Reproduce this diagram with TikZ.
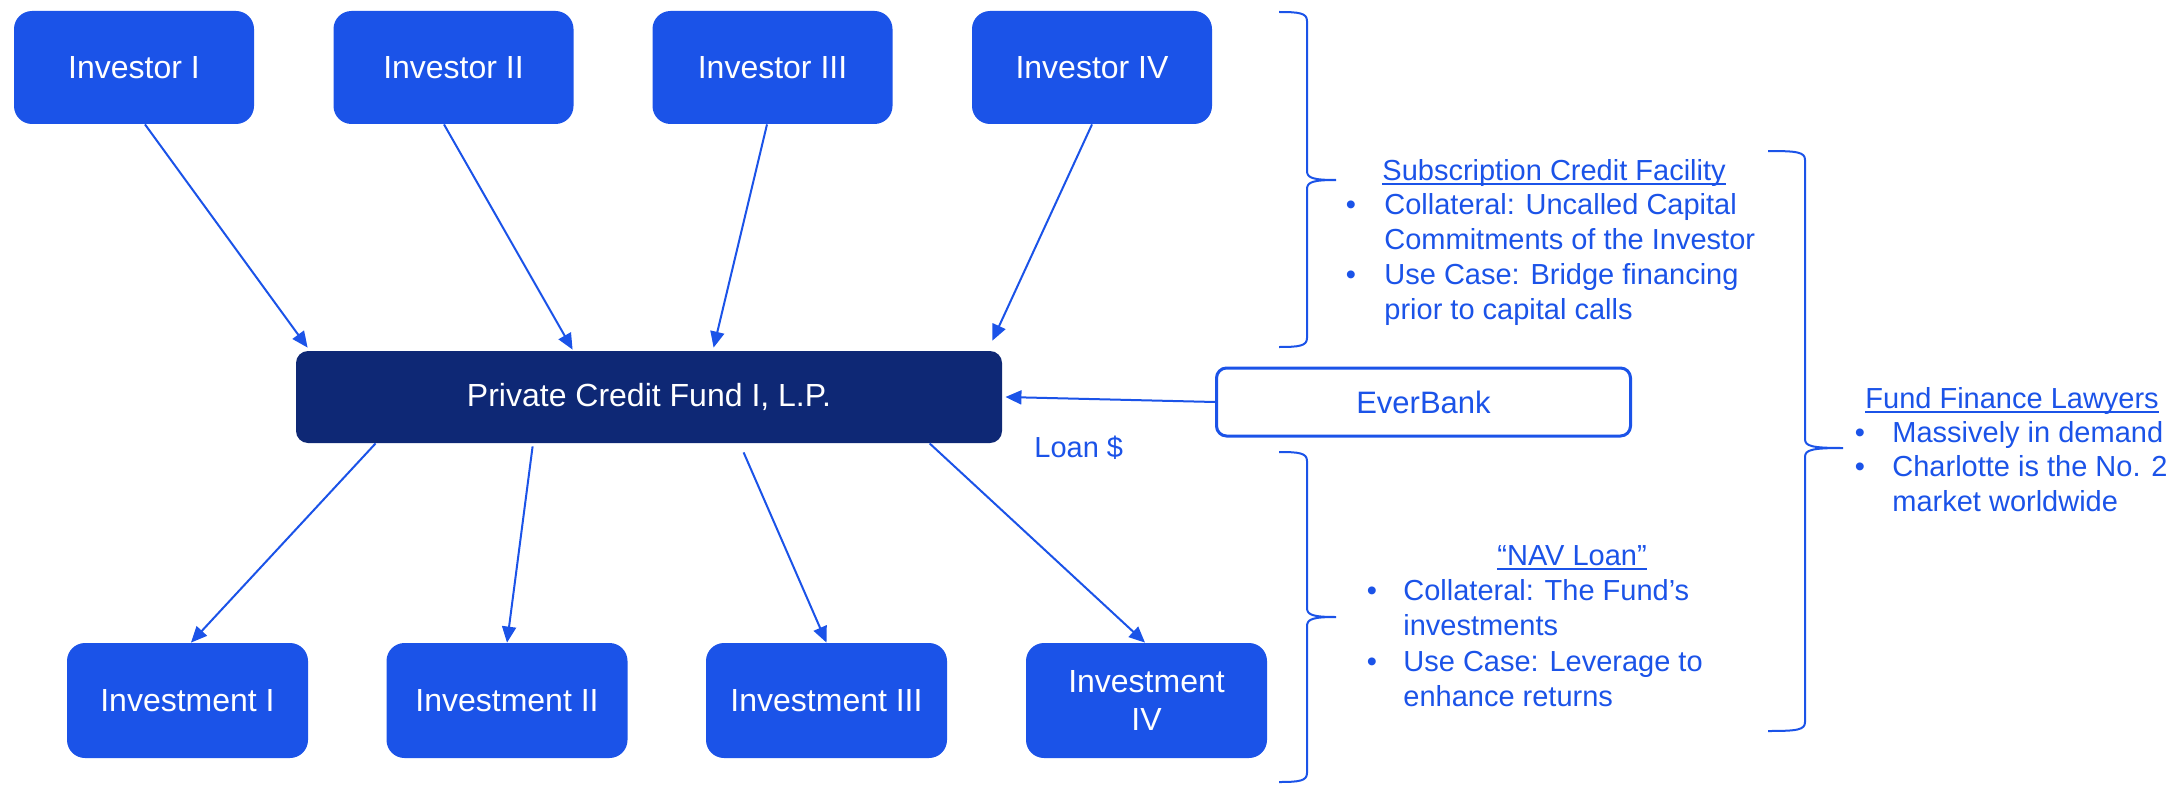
\documentclass[tikz,border=0pt]{standalone}
\usepackage{fontspec}
\setmainfont{Liberation Sans}
\usetikzlibrary{arrows.meta,calc}
\definecolor{bblue}{HTML}{1B53E8}
\definecolor{navy}{HTML}{0E2875}
\newcommand\myul[1]{\setbox0\hbox{#1}\rlap{\vrule width\wd0 height -1.3pt depth 2.3pt}\box0}
\newcommand\drawbrace[6]{\draw[brc] (#1,#4) .. controls (#2-8,#4) and (#2,#4+1) .. (#2,#4+9) -- (#2,#5-9) .. controls (#2,#5-2) and (#2+6,#5) .. (#3,#5) .. controls (#2+6,#5) and (#2,#5+2) .. (#2,#5+9) -- (#2,#6-9) .. controls (#2,#6-1) and (#2-8,#6) .. (#1,#6);}
\begin{document}
\begin{tikzpicture}[x=0.5pt,y=-0.5pt,
  boxlbl/.style={inner sep=0pt, text=white, font=\fontsize{16}{19}\selectfont, align=center},
  invbox/.style={boxlbl, fill=bblue, rounded corners=9pt, minimum width=120pt, minimum height=56.5pt},
  itbox/.style={boxlbl, fill=bblue, rounded corners=9pt, minimum width=120.5pt, minimum height=57.5pt},
  fundbox/.style={boxlbl, fill=navy, rounded corners=6pt, minimum width=353pt, minimum height=46pt},
  bankbox/.style={inner sep=0pt, draw=bblue, line width=1.5pt, fill=white, rounded corners=5pt, minimum width=207pt, minimum height=34pt, text=bblue, font=\fontsize{15.5}{19}\selectfont},
  note/.style={inner sep=0pt, anchor=base west, text=bblue, font=\fontsize{14.5}{17.5}\selectfont},
  bul/.style={inner sep=0pt, anchor=base, text=bblue, font=\fontsize{14.5}{17.5}\selectfont},
  arr/.style={draw=bblue, line width=1pt, -{Triangle[length=8pt,width=7pt]}},
  brc/.style={draw=bblue, line width=1pt}
]
\useasboundingbox (0,0) rectangle (2177,792);

% investors
\node[invbox] (inv1) at (134,67.5) {Investor I};
\node[invbox] (inv2) at (453.5,67.5) {Investor II};
\node[invbox] (inv3) at (772.5,67.5) {Investor III};
\node[invbox] (inv4) at (1092,67.5) {Investor IV};

% fund
\node[fundbox] (fund) at (649,397) {Private Credit Fund I, L.P.};

% bank
\node[bankbox] (bank) at (1423.5,402) {EverBank};
\node[note] (loan) at (1034,457) {Loan \$};

% investments
\node[itbox] (it1) at (187.5,700.5) {Investment I};
\node[itbox] (it2) at (507,700.5) {Investment II};
\node[itbox] (it3) at (826.5,700.5) {Investment III};
\node[itbox] (it4) at (1146.5,700.5) {Investment\\[0pt]IV};

% arrows investors -> fund
\draw[arr] ($(inv1.south)+(11,0)$) -- ($(fund.north west)+(12,-3)$);
\draw[arr] ($(inv2.south)+(-9.5,0)$) -- ($(fund.north west)+(277,-1)$);
\draw[arr] ($(inv3.south)+(-5.5,0)$) -- ($(fund.north west)+(418,-3)$);
\draw[arr] (inv4.south) -- ($(fund.north east)+(-10,-10)$);

% arrows fund -> investments
\draw[arr] ($(fund.south west)+(80,0)$) -- ($(it1.north)+(3.5,0)$);
\draw[arr] ($(fund.south west)+(237,3)$) -- (it2.north);
\draw[arr] ($(fund.south west)+(448,9)$) -- (it3.north);
\draw[arr] ($(fund.south west)+(634,0)$) -- ($(it4.north)+(-1.5,0)$);

% bank -> fund
\draw[arr] (bank.west) -- ($(fund.east)+(3,0)$);

% braces
\drawbrace{1279}{1307}{1336}{12}{180}{347}
\drawbrace{1279}{1307}{1336}{452}{617}{782}
\drawbrace{1768}{1805}{1843}{151}{448}{731}

% subscription credit facility
\node[note] (s0) at (1382,180) {\myul{Subscription Credit Facility}};
\node[bul] (sb1) at (1351,214) {\textbullet};
\node[note] (s1) at (1384,214) {Collateral: Uncalled Capital};
\node[note] (s2) at (1384,249) {Commitments of the Investor};
\node[bul] (sb2) at (1351,284) {\textbullet};
\node[note] (s3) at (1384,284) {Use Case: Bridge financing};
\node[note] (s4) at (1384,319) {prior to capital calls};

% NAV loan
\node[note] (n0) at (1497,565) {\myul{“NAV Loan”}};
\node[bul] (nb1) at (1372,600) {\textbullet};
\node[note] (n1) at (1403,600) {Collateral: The Fund’s};
\node[note] (n2) at (1403,635) {investments};
\node[bul] (nb2) at (1372,671) {\textbullet};
\node[note] (n3) at (1403,671) {Use Case: Leverage to};
\node[note] (n4) at (1403,706) {enhance returns};

% fund finance lawyers
\node[note] (f0) at (1865,408) {\myul{Fund Finance Lawyers}};
\node[bul] (fb1) at (1860,442) {\textbullet};
\node[note] (f1) at (1892,442) {Massively in demand};
\node[bul] (fb2) at (1860,476) {\textbullet};
\node[note] (f2) at (1892,476) {Charlotte is the No. 2};
\node[note] (f3) at (1892,511) {market worldwide};
\end{tikzpicture}
\end{document}
